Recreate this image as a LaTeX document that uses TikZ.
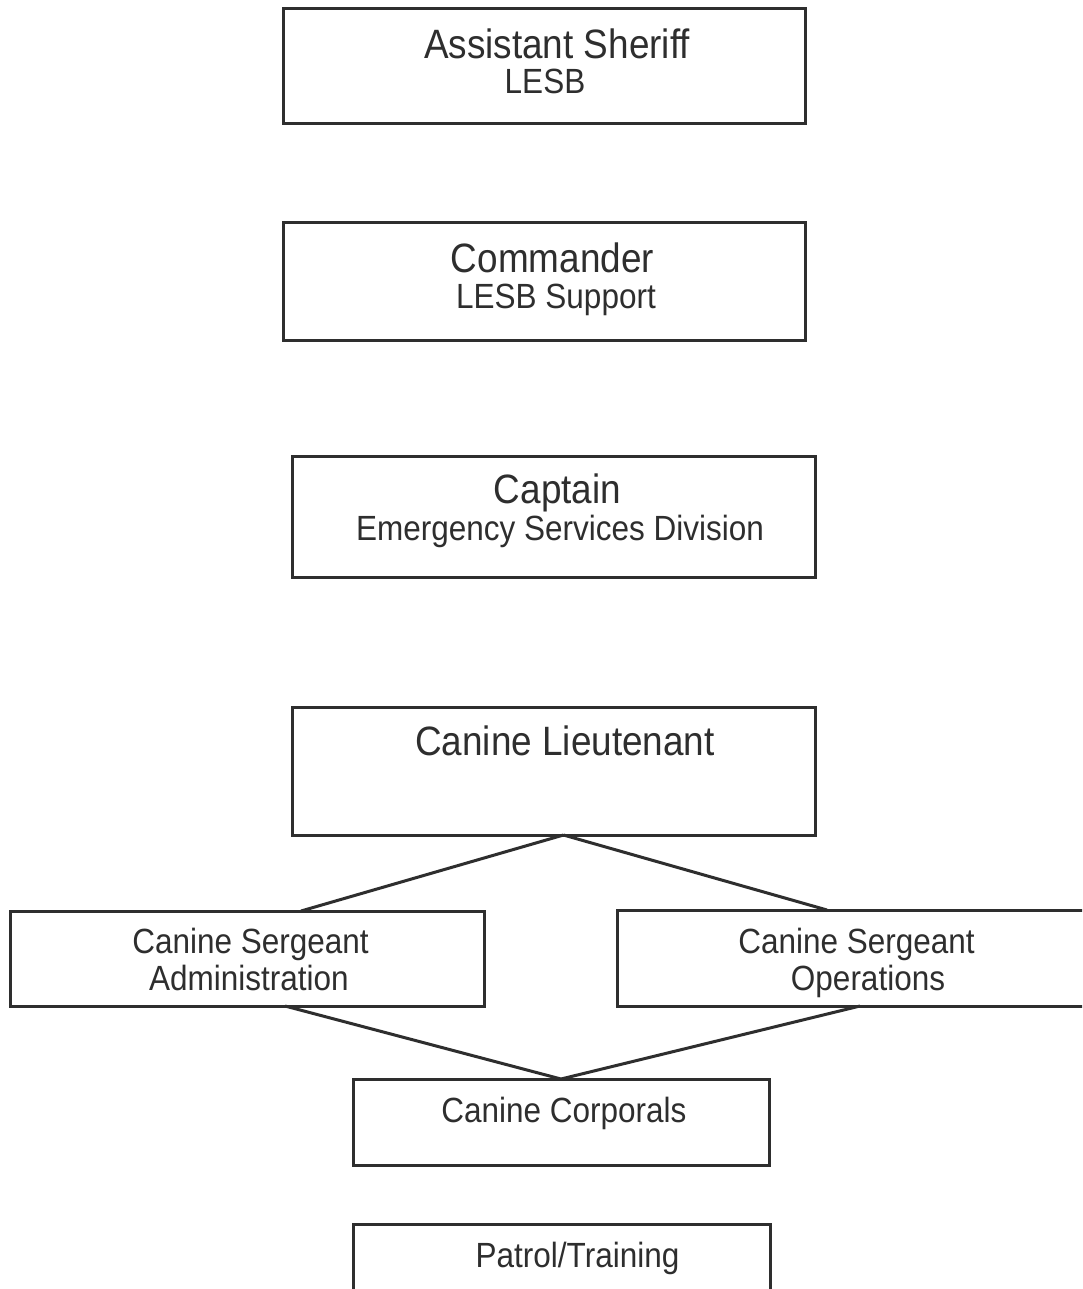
\documentclass[tikz,border=0pt]{standalone}
\usepackage{fontspec}
\setmainfont{Liberation Sans}
\newfontfamily\orgfont[FakeStretch=0.9]{Liberation Sans}
\definecolor{ink}{HTML}{2E2E2E}
\begin{document}
\begin{tikzpicture}[x=1pt,y=-1pt,
  box/.style={draw=ink, line width=3pt, rectangle, inner sep=0pt, outer sep=0pt},
  link/.style={draw=ink, line width=3pt},
  big/.style={anchor=base, text=ink, inner sep=0pt, font=\orgfont\fontsize{41}{41}\selectfont},
  small/.style={anchor=base, text=ink, inner sep=0pt, font=\orgfont\fontsize{35}{35}\selectfont}]
\clip (0,0) rectangle (1082,1289);
\fill[white] (0,0) rectangle (1082,1289);
% boxes
\node[box, minimum width=522, minimum height=115] (b1) at (544,66.5) {};
\node[box, minimum width=522, minimum height=117] (b2) at (544,281.5) {};
\node[box, minimum width=523, minimum height=121] (b3) at (553.5,516.5) {};
\node[box, minimum width=523, minimum height=128] (b4) at (553.5,771) {};
\node[box, minimum width=474, minimum height=95] (b5) at (247,958.5) {};
\node[box, minimum width=483, minimum height=96] (b6) at (858.5,958) {};
\node[box, minimum width=416, minimum height=86] (b7) at (561,1122) {};
\node[box, minimum width=417, minimum height=90] (b8) at (561.5,1269) {};
% texts
\node[big] (t1a) at (557,59) {Assistant Sheriff};
\node[small] (t1b) at (545,94) {LESB};
\node[big] (t2a) at (552.5,272) {Commander};
\node[small] (t2b) at (556,308) {LESB Support};
\node[big] (t3a) at (557.5,503) {Captain};
\node[small] (t3b) at (560,540) {Emergency Services Division};
\node[big] (t4a) at (565,755) {Canine Lieutenant};
\node[small] (t5a) at (250.5,953) {Canine Sergeant};
\node[small] (t5b) at (249,990) {Administration};
\node[small] (t6a) at (856.5,953) {Canine Sergeant};
\node[small] (t6b) at (868,990) {Operations};
\node[small] (t7a) at (564,1122) {Canine Corporals};
\node[small] (t8a) at (577.5,1267) {Patrol/Training};
% connectors
\draw[link] ([xshift=10]b4.south) -- ([xshift=54]b5.north);
\draw[link] ([xshift=10]b4.south) -- ([xshift=-31.5]b6.north);
\draw[link] ([xshift=38]b5.south) -- (b7.north);
\draw[link] ([xshift=1.5]b6.south) -- (b7.north);
\end{tikzpicture}
\end{document}
